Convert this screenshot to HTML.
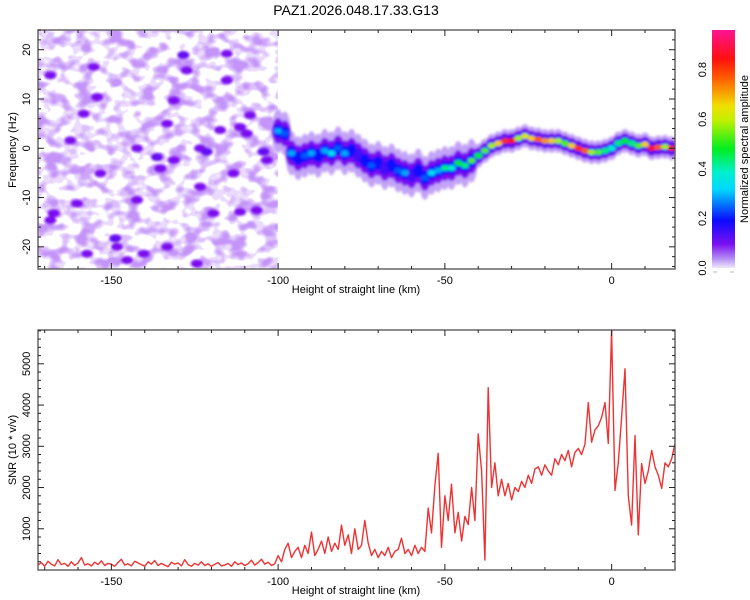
<!DOCTYPE html>
<html><head><meta charset="utf-8"><style>
html,body{margin:0;padding:0;background:#fff;}
svg{display:block;font-family:"Liberation Sans",sans-serif;}
</style></head><body>
<svg id="chart" width="750" height="600" viewBox="0 0 750 600">
<defs>
<filter id="blur" x="-10%" y="-10%" width="120%" height="120%"><feGaussianBlur stdDeviation="1.2"/></filter>
<filter id="tex" filterUnits="userSpaceOnUse" x="38" y="30" width="240" height="240">
<feTurbulence type="fractalNoise" baseFrequency="0.065 0.085" numOctaves="2" seed="7"/>
<feColorMatrix type="matrix" values="0 0 0 0 0.55  0 0 0 0 0.3  0 0 0 0 0.94  3 0 0 0 -1.2"/>
<feComponentTransfer><feFuncA type="discrete" tableValues="0 0.35 0.6 0.85 1"/></feComponentTransfer>
<feGaussianBlur stdDeviation="0.6"/>
</filter>
<linearGradient id="cbar" x1="0" y1="1" x2="0" y2="0">
<stop offset="0" stop-color="#f0e8fc"/><stop offset="0.04" stop-color="#b48cf5"/>
<stop offset="0.1" stop-color="#7a10f0"/><stop offset="0.2" stop-color="#0a0aff"/>
<stop offset="0.33" stop-color="#00d8ff"/><stop offset="0.4" stop-color="#00f0d0"/>
<stop offset="0.5" stop-color="#00ee20"/><stop offset="0.62" stop-color="#c0f000"/>
<stop offset="0.68" stop-color="#f0e000"/><stop offset="0.8" stop-color="#ff5a00"/>
<stop offset="0.88" stop-color="#ff1010"/><stop offset="1" stop-color="#ff1493"/>
</linearGradient>
<clipPath id="clipTop"><rect x="38" y="30" width="637" height="239"/></clipPath>
<clipPath id="clipNoise"><rect x="38" y="30" width="240" height="239"/></clipPath>
<clipPath id="clipBot"><rect x="38" y="330" width="637" height="239"/></clipPath>
</defs>
<text x="356" y="15" text-anchor="middle" font-size="14" fill="#000">PAZ1.2026.048.17.33.G13</text>
<g id="topPanel"></g>
<g id="botPanel"></g>
<g id="cbPanel"></g>
</svg>
<script>
// ---- data ----
const xRange = [-172, 19];
const fRange = [-24.5, 24];
const snrRange = [0, 5820];
const xTicks = [-150, -100, -50, 0];
const fTicks = [-20, -10, 0, 10, 20];
const snrTicks = [1000, 2000, 3000, 4000, 5000];
const cbTicks = [0.0, 0.2, 0.4, 0.6, 0.8];

const ridgeKm = [-100,-98,-96,-94,-92,-90,-88,-86,-84,-82,-80,-78,-76,-74,-72,-70,-68,-66,-64,-62,-60,-58,-56,-54,-52,-50,-48,-46,-44,-42,-40,-38,-36,-34,-32,-30,-28,-26,-24,-22,-20,-18,-16,-14,-12,-10,-8,-6,-4,-2,0,2,4,6,8,10,12,14,16,18];
const ridgeFreq = [3.5,3,-1,-2,-1.5,-1,-1.5,-0.5,-1,0,-1,-0.5,-1.5,-2.5,-3.5,-3,-4,-3.5,-4.5,-5,-5.5,-4.5,-6,-5,-4.5,-4,-4,-3,-3.5,-2.5,-1.5,-0.5,0.5,1,1.5,1.5,2,2.5,2,1.8,1.5,1.5,1.5,1,0.5,0,-0.5,-0.8,-0.8,-0.5,0,1,1.5,1,0.5,0.8,0,0.2,0.3,0];
const ridgeAmp = [0.3,0.25,0.3,0.2,0.25,0.3,0.2,0.3,0.35,0.25,0.3,0.2,0.15,0.2,0.25,0.2,0.15,0.2,0.25,0.3,0.15,0.2,0.25,0.35,0.3,0.45,0.4,0.5,0.45,0.55,0.5,0.55,0.6,0.7,0.85,0.9,0.6,0.65,0.7,0.8,0.75,0.7,0.6,0.55,0.7,0.85,0.8,0.6,0.55,0.45,0.4,0.45,0.5,0.45,0.55,0.7,0.9,0.8,0.6,0.85];

const noiseKm = [-128.4,-115.4,-131.3,-136.3,-135.3,-123.4,-121.4,-104.4,-117.4,-111.4,-108.4,-109.4,-148.8,-148.3,-133.3,-157.3,-160.3,-167.3,-168.3,-154.3,-162.3,-142.3,-131.3,-119.4,-111.4,-106.4,-142.3,-145.3,-140.3,-124.4,-155.3,-127.4,-123.4,-168.3,-158.3,-133.3,-115.4,-153.3,-103.4,-113.4];
const noiseFreq = [18.9,19.2,9.7,-1.8,-4.1,0,-0.7,-0.7,3.7,4.3,6.7,3,-18.3,-20,-20,-21.4,-11.2,-13.2,14.8,10.4,1.6,0,-2.4,-13.2,-12.9,-12.6,-10.5,-22.7,-21.4,-23.4,16.5,15.8,-7.8,-14.6,7,5,13.8,-5.1,-2.4,-5.1];
const noiseAmp = [0.12,0.1,0.1,0.12,0.1,0.1,0.12,0.12,0.1,0.1,0.1,0.1,0.12,0.1,0.1,0.1,0.1,0.1,0.1,0.1,0.1,0.1,0.1,0.1,0.1,0.1,0.1,0.1,0.1,0.1,0.1,0.1,0.1,0.1,0.1,0.1,0.1,0.1,0.1,0.1];

const snrKm0 = -172;
const snrValues = [120,180,90,210,140,100,250,130,160,90,200,110,170,300,120,150,100,190,130,220,110,160,140,90,180,260,120,150,100,210,170,130,90,200,140,230,110,160,120,80,190,140,170,100,250,130,90,160,120,200,110,150,90,140,180,100,120,160,90,200,130,170,110,150,240,120,180,260,140,190,110,150,
350,200,500,650,300,450,550,300,600,400,920,350,500,700,400,800,450,650,500,1090,600,850,400,1000,500,600,1200,650,350,500,300,450,350,550,300,450,500,770,400,500,350,600,400,550,450,
1500,900,2050,2830,550,1800,1200,2080,900,1400,700,1300,1100,2000,1200,
3300,2400,240,4420,2000,2600,1800,2200,1800,2100,1700,2000,1900,2150,2000,2300,2100,2450,2500,2300,2550,2400,2300,2700,2550,2800,2650,2900,2500,2850,2950,2800,3050,4060,3100,3400,3500,3700,4060,3070,5800,1930,2600,3700,4880,1800,1090,3260,850,2580,2100,2400,2900,2500,2300,1980,2600,2500,2700,3070];

// ---- scales ----
const L=38,R=675,T1=30,B1=269,T2=330,B2=570;
const X = v => L + (v - xRange[0]) / (xRange[1] - xRange[0]) * (R - L);
const Y1 = v => B1 - (v - fRange[0]) / (fRange[1] - fRange[0]) * (B1 - T1);
const Y2 = v => B2 - (v - snrRange[0]) / (snrRange[1] - snrRange[0]) * (B2 - T2);
const CB0=268, CB1=30, cbMax=0.96;
const YC = v => CB0 - v / cbMax * (CB0 - CB1);
const NS='http://www.w3.org/2000/svg';
function mk(tag, attrs, parent){const e=document.createElementNS(NS,tag);for(const k in attrs)e.setAttribute(k,attrs[k]);parent.appendChild(e);return e;}

const cstops=[[0,[240,232,252]],[0.04,[180,140,245]],[0.1,[122,16,240]],[0.2,[10,10,255]],[0.33,[0,216,255]],[0.4,[0,240,208]],[0.5,[0,238,32]],[0.62,[192,240,0]],[0.68,[240,224,0]],[0.8,[255,90,0]],[0.88,[255,16,16]],[1,[255,20,147]]];
function cmap(v){for(let i=1;i<cstops.length;i++){if(v<=cstops[i][0]){const a=cstops[i-1],b=cstops[i];const t=(v-a[0])/(b[0]-a[0]);const c=a[1].map((x,j)=>Math.round(x+(b[1][j]-x)*t));return `rgb(${c[0]},${c[1]},${c[2]})`;}}return 'rgb(255,20,147)';}

// ---- top panel ----
const topG=document.getElementById('topPanel');
const img=mk('g',{'clip-path':'url(#clipTop)'},topG);


const noiseWrap=mk('g',{'clip-path':'url(#clipNoise)'},img);
const noiseBg=mk('rect',{x:L,y:T1,width:X(-100)-L,height:B1-T1,fill:'#fff',filter:'url(#tex)'},noiseWrap);


const blobs=mk('g',{filter:'url(#blur)'},img);


for(let i=0;i<noiseKm.length;i++){
  const e=mk('ellipse',{cx:X(noiseKm[i]),cy:Y1(noiseFreq[i]),rx:6,ry:4,fill:cmap(noiseAmp[i])},blobs);
  
  
}
for(let i=0;i<ridgeKm.length;i++){
  const e=mk('ellipse',{cx:X(ridgeKm[i]),cy:Y1(ridgeFreq[i]),rx:6,ry:ridgeKm[i]<-40?22:12,fill:cmap(0.03)},blobs);
  
  
}
for(let i=0;i<ridgeKm.length;i++){
  const e=mk('ellipse',{cx:X(ridgeKm[i]),cy:Y1(ridgeFreq[i]),rx:6,ry:ridgeKm[i]<-40?13:8,fill:cmap(0.1)},blobs);
  
  
}
for(let i=0;i<ridgeKm.length;i++){
  const e=mk('ellipse',{cx:X(ridgeKm[i]),cy:Y1(ridgeFreq[i]),rx:5,ry:ridgeKm[i]<-40?7:5,fill:cmap(Math.min(0.2,ridgeAmp[i]))},blobs);
  
  
}
for(let i=0;i<ridgeKm.length;i++){
  const e=mk('ellipse',{cx:X(ridgeKm[i]),cy:Y1(ridgeFreq[i]),rx:4,ry:3,fill:cmap(ridgeAmp[i])},blobs);
  
  
}

function frame(parent,T,B){
  const f=mk('rect',{x:L,y:T,width:R-L,height:B-T,fill:'none',stroke:'#666','stroke-width':1.5},parent);
  
  
  for(let v=-170;v<=19;v+=10){
    const major=v%50===0; const len=major?6:3;
    mk('line',{x1:X(v),x2:X(v),y1:B,y2:B-len,stroke:'#222','stroke-width':1},parent);
    mk('line',{x1:X(v),x2:X(v),y1:T,y2:T+len,stroke:'#222','stroke-width':1},parent);
  }
  for(const v of xTicks){
    const t=mk('text',{x:X(v),y:B+15,'text-anchor':'middle','font-size':11,fill:'#000'},parent);
    t.textContent=v;
    
    
  }
  const xt=mk('text',{x:356,y:B+24,'text-anchor':'middle','font-size':11,fill:'#000'},parent);
  xt.textContent='Height of straight line (km)';
  
  
}
frame(topG,T1,B1);
for(let v=-24;v<=24;v+=2){
  const major=v%10===0; const len=major?6:3;
  mk('line',{x1:L,x2:L+len,y1:Y1(v),y2:Y1(v),stroke:'#222'},topG);
  mk('line',{x1:R,x2:R-len,y1:Y1(v),y2:Y1(v),stroke:'#222'},topG);
}
for(const v of fTicks){
  const t=mk('text',{x:0,y:0,'text-anchor':'middle','font-size':11,fill:'#000',transform:`translate(30,${Y1(v)}) rotate(-90)`},topG);
  t.textContent=v;
  
  
}
const yt1=mk('text',{x:0,y:0,'text-anchor':'middle','font-size':11,fill:'#000',transform:`translate(16,150) rotate(-90)`},topG);
yt1.textContent='Frequency (Hz)';



// ---- colorbar ----
const cbG=document.getElementById('cbPanel');
const cbr=mk('rect',{x:712,y:CB1,width:23,height:CB0-CB1,fill:'url(#cbar)'},cbG);


mk('line',{x1:713,x2:717,y1:272,y2:272,stroke:'#bbb'},cbG);
mk('line',{x1:730,x2:734,y1:272,y2:272,stroke:'#bbb'},cbG);
for(const v of cbTicks){
  const t=mk('text',{x:0,y:0,'text-anchor':'middle','font-size':11,fill:'#000',transform:`translate(706,${YC(v)}) rotate(-90)`},cbG);
  t.textContent=v.toFixed(1);
  
  
}
const cbt=mk('text',{x:0,y:0,'text-anchor':'middle','font-size':11,fill:'#000',transform:`translate(748,149) rotate(-90)`},cbG);
cbt.textContent='Normalized spectral amplitude';



// ---- bottom panel ----
const botG=document.getElementById('botPanel');
const lg=mk('g',{'clip-path':'url(#clipBot)'},botG);
let d='';
snrValues.forEach((v,i)=>{d+=(i?'L':'M')+X(snrKm0+i).toFixed(1)+','+Y2(v).toFixed(1);});
const line=mk('path',{d:d,fill:'none',stroke:'#ee3333','stroke-width':1.4,'stroke-linejoin':'round'},lg);


frame(botG,T2,B2);
for(let v=200;v<=5800;v+=200){
  const major=v%1000===0; const len=major?6:3;
  mk('line',{x1:L,x2:L+len,y1:Y2(v),y2:Y2(v),stroke:'#222'},botG);
  mk('line',{x1:R,x2:R-len,y1:Y2(v),y2:Y2(v),stroke:'#222'},botG);
}
for(const v of snrTicks){
  const t=mk('text',{x:0,y:0,'text-anchor':'middle','font-size':11,fill:'#000',transform:`translate(30,${Y2(v)}) rotate(-90)`},botG);
  t.textContent=v;
  
  
}
const yt2=mk('text',{x:0,y:0,'text-anchor':'middle','font-size':11,fill:'#000',transform:`translate(16,450) rotate(-90)`},botG);
yt2.textContent='SNR (10 * v/v)';


</script>
</body></html>
